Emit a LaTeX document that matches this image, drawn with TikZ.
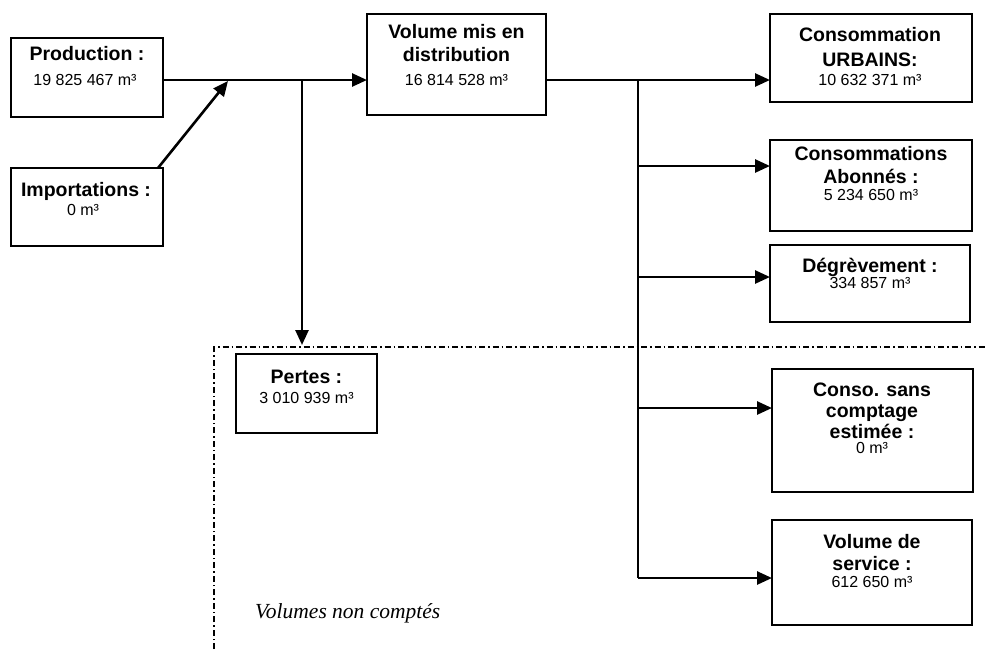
\documentclass[tikz,border=0pt]{standalone}
\usepackage{fontspec}
\setmainfont{Liberation Sans}
\newfontfamily\serifit{Liberation Serif}
\usetikzlibrary{arrows.meta}
\begin{document}
\begin{tikzpicture}[x=1pt,y=-1pt,
  box/.style={draw, line width=2pt, inner sep=0pt, outer sep=0pt},
  ttl/.style={anchor=base, inner sep=0pt, font=\fontsize{19.5}{22}\selectfont\bfseries},
  num/.style={anchor=base, inner sep=0pt, font=\fontsize{16}{18}\selectfont},
  conn/.style={line width=2.6pt},
  arr/.style={conn, -{Triangle[length=15pt,width=13pt]}},
  zone/.style={line width=1.8pt, dash pattern=on 6pt off 3pt on 1.5pt off 3pt}]
\fill[white] (0,0) rectangle (985,649);
\useasboundingbox (0,0) rectangle (985,649);

% boxes
\node[box, minimum width=152pt, minimum height=79pt]  (prod) at (87,77.5) {};
\node[box, minimum width=152pt, minimum height=78pt]  (imp)  at (87,207) {};
\node[box, minimum width=179pt, minimum height=101pt] (vol)  at (456.5,64.5) {};
\node[box, minimum width=202pt, minimum height=88pt]  (urb)  at (871,58) {};
\node[box, minimum width=202pt, minimum height=91pt]  (abo)  at (871,185.5) {};
\node[box, minimum width=200pt, minimum height=77pt]  (deg)  at (870,283.5) {};
\node[box, minimum width=201pt, minimum height=123pt] (con)  at (872.5,430.5) {};
\node[box, minimum width=200pt, minimum height=105pt] (ser)  at (872,572.5) {};
\node[box, minimum width=141pt, minimum height=79pt]  (per)  at (306.5,393.5) {};

% texts
\node[ttl] (prodT) at (87,60.7) {Production :};
\node[num] (prodN) at (85,85) {19 825 467 m³};
\node[ttl] (impT) at (86,196.5) {Importations :};
\node[num] (impN) at (83,215) {0 m³};
\node[ttl] (volT1) at (456.5,38) {Volume mis en};
\node[ttl] (volT2) at (456.5,61) {distribution};
\node[num] (volN) at (456.5,85) {16 814 528 m³};
\node[ttl] (urbT1) at (870,41.5) {Consommation};
\node[ttl] (urbT2) at (870,66.5) {URBAINS:};
\node[num] (urbN) at (870,85) {10 632 371 m³};
\node[ttl] (aboT1) at (871,160) {Consommations};
\node[ttl] (aboT2) at (871,183) {Abonnés :};
\node[num] (aboN) at (871,200) {5 234 650 m³};
\node[ttl] (degT) at (870,272) {Dégrèvement :};
\node[num] (degN) at (870,288) {334 857 m³};
\node[ttl] (conT1) at (872,396.5) {Conso. sans};
\node[ttl] (conT2) at (872,417) {comptage};
\node[ttl] (conT3) at (872,438) {estimée :};
\node[num] (conN) at (872,453) {0 m³};
\node[ttl] (serT1) at (872,548) {Volume de};
\node[ttl] (serT2) at (872,570) {service :};
\node[num] (serN) at (872,587) {612 650 m³};
\node[ttl] (perT) at (306.5,383) {Pertes :};
\node[num] (perN) at (306.5,403) {3 010 939 m³};
\node[anchor=base west, inner sep=0pt, font=\serifit\itshape\fontsize{21.5}{24}\selectfont] (nc) at (255,618) {Volumes non comptés};

% coordinates
\coordinate (yline) at (0,80);
\coordinate (ib) at (228,81);
\coordinate (jp) at (302,80);
\coordinate (pt) at (302,345);
\coordinate (jb) at (638,80);
\coordinate (ya) at (0,166);
\coordinate (yd) at (0,277);
\coordinate (yc) at (0,408);
\coordinate (ys) at (0,578);
\coordinate (z1) at (214,649);
\coordinate (z2) at (214,347);
\coordinate (z3) at (985,347);

% connectors
\draw[arr] (prod.east |- yline) -- (vol.west |- yline);
\draw[arr] ([xshift=-5pt]imp.north east) -- (ib);
\draw[arr] (jp) -- (pt);
\draw[arr] (vol.east |- yline) -- (urb.west |- yline);
\draw[conn] (jb) -- (jb |- ys);
\draw[arr] (jb |- ya) -- (abo.west |- ya);
\draw[arr] (jb |- yd) -- (deg.west |- yd);
\draw[arr] (jb |- yc) -- (con.west |- yc);
\draw[arr] (jb |- ys) -- (ser.west |- ys);

% zone of uncounted volumes
\draw[zone] (z1) -- (z2) -- (z3);
\end{tikzpicture}
\end{document}
